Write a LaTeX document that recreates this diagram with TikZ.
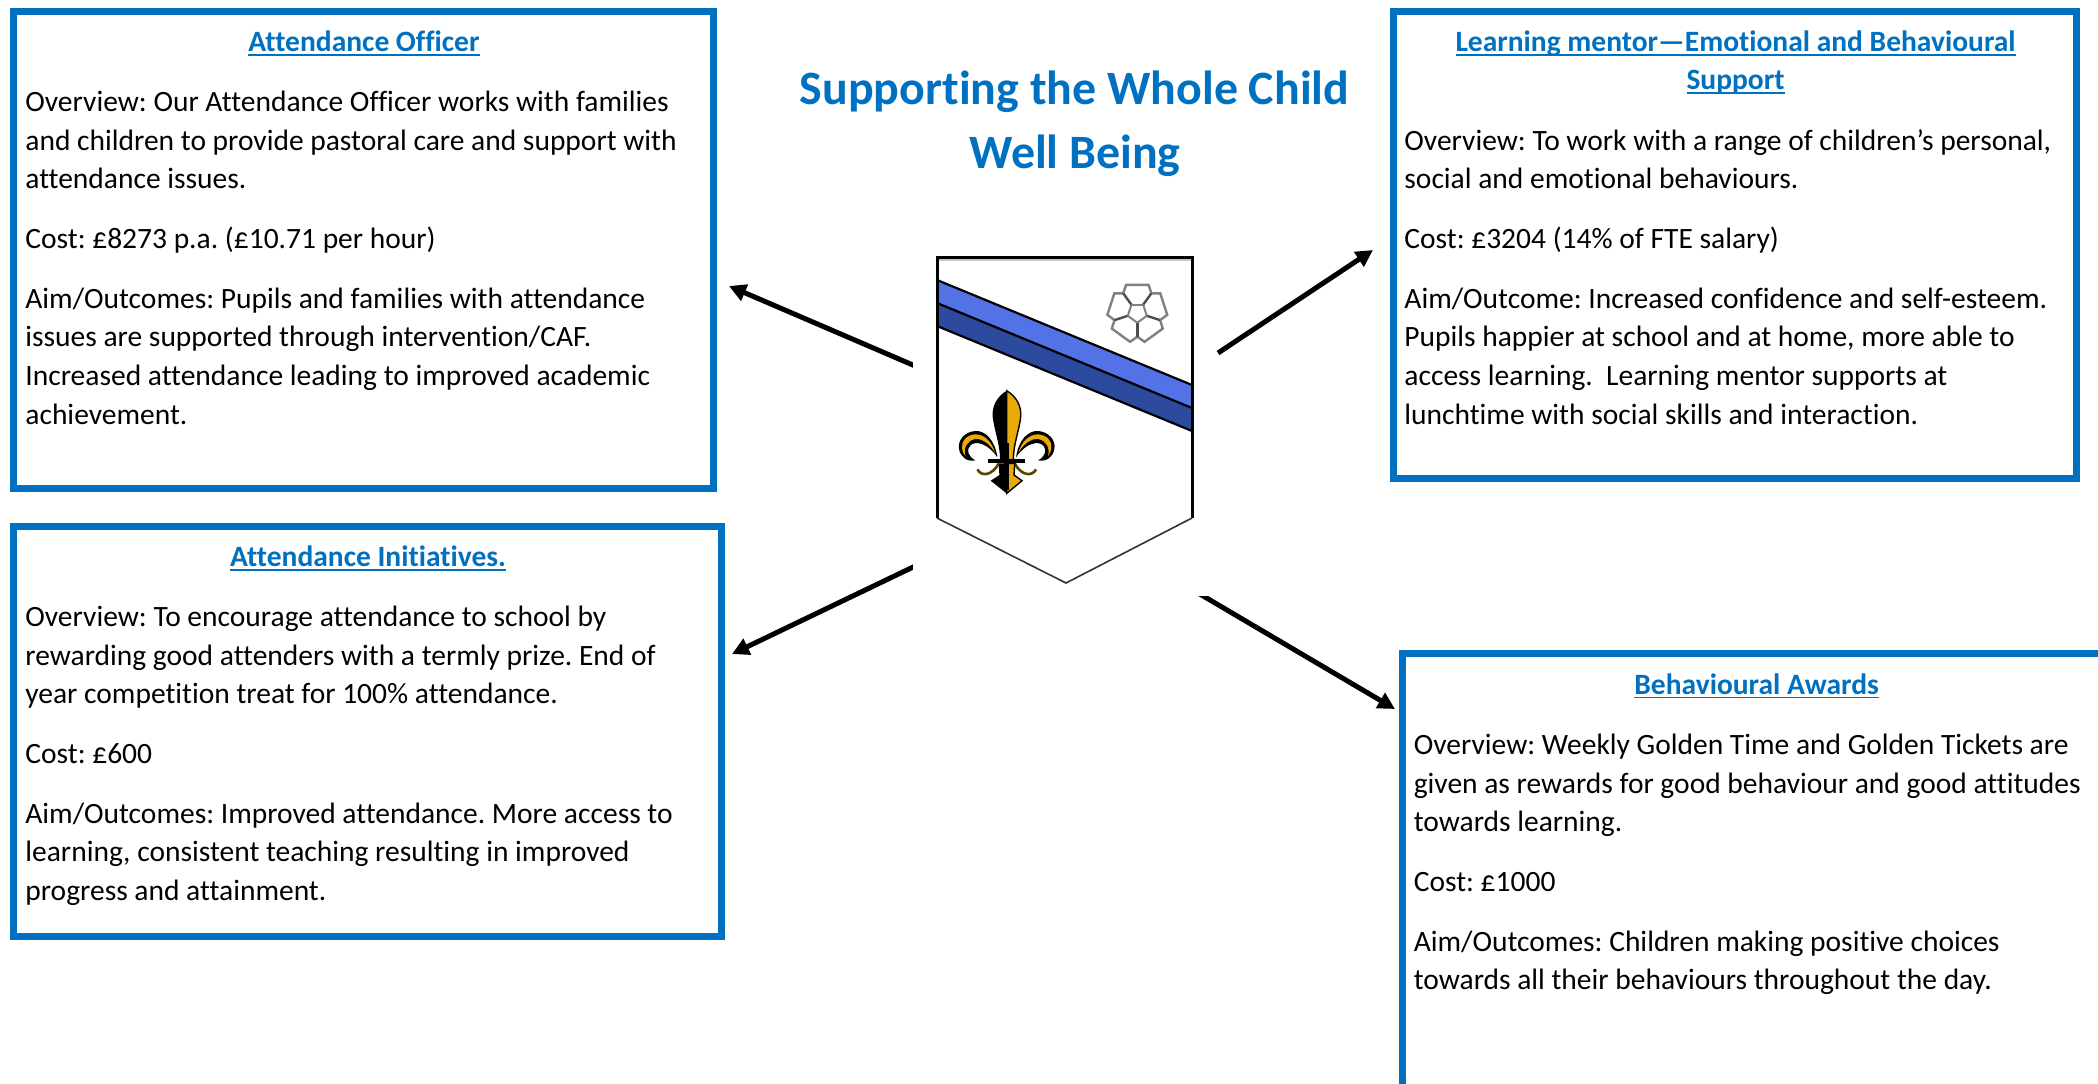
\documentclass[tikz,border=0pt]{standalone}
\usepackage{fontspec}
\setmainfont[RawFeature={-liga;-clig}]{Carlito}
\usetikzlibrary{arrows.meta}
\definecolor{boxblue}{HTML}{0070C0}
\definecolor{bandlight}{HTML}{5272E6}
\definecolor{banddark}{HTML}{2C4A9E}
\definecolor{fleurgold}{HTML}{E8AA08}
\frenchspacing
\newcommand{\ulx}[1]{\leavevmode\setbox0=\hbox{#1}\rlap{\box0}\setbox0=\hbox{#1}\rule[-2.1pt]{\wd0}{0.85pt}}
\newcommand{\bodysize}{\fontsize{14.75}{19.4}\selectfont}
\newcommand{\bodytext}[1]{\begin{minipage}[t]{336pt}\bodysize\frenchspacing\setlength{\parindent}{0pt}\setlength{\parskip}{10.4pt}\setlength{\baselineskip}{19.4pt}#1\end{minipage}}
\tikzset{
  infobox/.style={draw=boxblue,line width=3.3pt,fill=white,inner sep=0pt,outer sep=0pt},
  heading/.style={anchor=base,inner sep=0pt,text=boxblue,font=\bodysize\bfseries},
  bodynode/.style={anchor=base west,inner sep=0pt,text=black},
  bigtitle/.style={anchor=base,inner sep=0pt,text=boxblue,font=\fontsize{23.95}{32}\selectfont\bfseries},
  linkarrow/.style={draw=black,line width=2.5pt,-{Triangle[length=8.5pt,width=8.5pt]},shorten >=0pt},
  crestline/.style={draw=black,line width=1.5pt}
}
\newcommand{\fleurside}{%
  \fill[black] (292,682) .. controls (285,630) and (255,600) .. (225,603) .. controls (195,605) and (172,630) .. (177,657) .. controls (181,680) and (200,696) .. (226,691) .. controls (205,680) and (198,660) .. (210,647) .. controls (225,630) and (265,640) .. (292,682) -- cycle;
  \fill[fleurgold] (285,668) .. controls (275,632) and (250,612) .. (225,613) .. controls (200,615) and (184,632) .. (186,652) .. controls (187,664) and (191,672) .. (196,678) .. controls (190,655) and (200,632) .. (225,627) .. controls (248,624) and (272,645) .. (285,668) -- cycle;
  \draw[draw=black!60!fleurgold,line width=1.3pt] (232,718) .. controls (245,742) and (278,735) .. (296,700);
}
\begin{document}
\begin{tikzpicture}[x=0.5pt,y=-0.5pt]
\useasboundingbox (0,0) rectangle (2098,1083);
\clip (0,0) rectangle (2098,1083);
\fill[white] (0,0) rectangle (2098,1083);

% boxes
\node[infobox,minimum width=350pt,minimum height=238.4pt] (officer) at (363.7,250) {};
\node[infobox,minimum width=354pt,minimum height=205.2pt] (initiatives) at (367.7,731.5) {};
\node[infobox,minimum width=341.7pt,minimum height=233.7pt] (mentor) at (1735,245) {};
\node[infobox,minimum width=400pt,minimum height=300pt] (awards) at (1802.3,953.3) {};

% title
\node[bigtitle] (title1) at (1074.5,104.3) {Supporting the Whole Child};
\node[bigtitle] (title2) at (1075,168.3) {Well Being};

% headings
\node[heading] (h1) at (364,51.3) {\ulx{Attendance Officer}};
\node[heading] (h2) at (368,566.3) {\ulx{Attendance Initiatives.}};
\node[heading] (h3a) at (1735.5,51.3) {\ulx{Learning mentor—Emotional and Behavioural}};
\node[heading] (h3b) at (1735.5,89.3) {\ulx{Support}};
\node[heading] (h4) at (1756.6,694) {\ulx{Behavioural Awards}};

% bodies
\node[bodynode] (b1) at (25,111.3) {\bodytext{Overview: Our Attendance Officer works with families\\
and children to provide pastoral care and support with\\
attendance issues.

Cost: £8273 p.a. (£10.71 per hour)

Aim/Outcomes: Pupils and families with attendance\\
issues are supported through intervention/CAF.\\
Increased attendance leading to improved academic\\
achievement.}};
\node[bodynode] (b2) at (25,626.3) {\bodytext{Overview: To encourage attendance to school by\\
rewarding good attenders with a termly prize. End of\\
year competition treat for 100\% attendance.

Cost: £600

Aim/Outcomes: Improved attendance. More access to\\
learning, consistent teaching resulting in improved\\
progress and attainment.}};
\node[bodynode] (b3) at (1404,150) {\bodytext{Overview: To work with a range of children’s personal,\\
social and emotional behaviours.

Cost: £3204 (14\% of FTE salary)

Aim/Outcome: Increased confidence and self-esteem.\\
Pupils happier at school and at home, more able to\\
access learning.\ \ Learning mentor supports at\\
lunchtime with social skills and interaction.}};
\node[bodynode] (b4) at (1413.4,754.3) {\bodytext{Overview: Weekly Golden Time and Golden Tickets are\\
given as rewards for good behaviour and good attitudes\\
towards learning.

Cost: £1000

Aim/Outcomes: Children making positive choices\\
towards all their behaviours throughout the day.}};

% arrows (tails run under the crest's white ground)
\coordinate (t1) at (935,374.5);
\coordinate (e1) at (729,286);
\coordinate (t2) at (935,556.5);
\coordinate (e2) at (732,654);
\coordinate (t3) at (1218,353);
\coordinate (e3) at (1373,250);
\coordinate (t4) at (1182,583.5);
\coordinate (e4) at (1395,709);
\draw[linkarrow] (t1) -- (e1);
\draw[linkarrow] (t2) -- (e2);
\draw[linkarrow] (t3) -- (e3);
\draw[linkarrow] (t4) -- (e4);

% crest ground
\node[fill=white,inner sep=0pt,outer sep=0pt,minimum width=151.5pt,minimum height=173pt] (crestground) at (1064.5,423) {};

% shield
\fill[white] (937,257) -- (1192,257) -- (1192,518) -- (1066,583) -- (937,518) -- cycle;
\fill[bandlight] (937,280) -- (1192,385) -- (1192,408) -- (937,303) -- cycle;
\fill[banddark] (937,303) -- (1192,408) -- (1192,431) -- (937,326) -- cycle;
\draw[draw=black,line width=1.1pt] (937,280) -- (1192,385);
\draw[draw=black,line width=1.1pt] (937,303) -- (1192,408);
\draw[draw=black,line width=1.1pt] (937,326) -- (1192,431);
\fill[black!22] (938,258) rectangle (1192,261);
\draw[crestline] (937,518) -- (937,257) -- (1192,257) -- (1192,518);
\draw[draw=black!80,line width=0.8pt] (937,518) -- (1066,583) -- (1192,518);

% rose
\begin{scope}[shift={(1137.3,312.7)}]
  \foreach \a in {54,126,198,270,342}{
    \draw[draw=black!50,line width=1.2pt] (\a-36:24) -- (\a-22:30) -- (\a+22:30) -- (\a+36:24);
    \draw[draw=black!70,line width=1.2pt] (\a-36:10) -- (\a-36:24);
    \draw[draw=black!50,line width=1pt] (\a-36:10) -- (\a+36:10);
  }
\end{scope}

% fleur-de-lis
\begin{scope}[shift={(900,230)},x=0.1667pt,y=-0.1667pt]
  \fleurside
  \begin{scope}[shift={(640,0)},xscale=-1]\fleurside\end{scope}
  \fill[black] (320,482) .. controls (290,500) and (275,530) .. (278,560) .. controls (282,600) and (300,640) .. (300,690) -- (320,690) -- cycle;
  \filldraw[fill=fleurgold,draw=black,line width=0.7pt] (320,482) .. controls (350,500) and (365,530) .. (362,560) .. controls (358,600) and (340,640) .. (340,690) -- (320,690) -- cycle;
  \fill[black] (296,700) -- (320,700) -- (320,790) -- (272,752) -- (298,735) -- cycle;
  \filldraw[fill=fleurgold,draw=black,line width=0.7pt] (344,700) -- (320,700) -- (320,790) -- (366,752) -- (342,735) -- cycle;
  \fill[black] (264,686) rectangle (376,700);
  \fill[black] (312,640) rectangle (328,780);
\end{scope}
\end{tikzpicture}
\end{document}
